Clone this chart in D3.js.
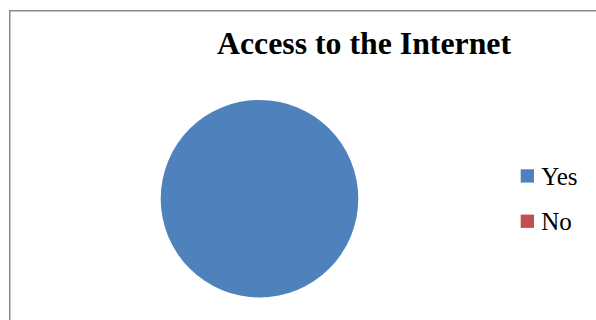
<!DOCTYPE html>
<html><head><meta charset="utf-8">
<script src="https://cdn.jsdelivr.net/npm/d3@7"></script>
<style>html,body{margin:0;padding:0;background:#fff;}svg{display:block;}</style>
</head><body>
<svg id="chart" width="596" height="320"></svg>
<script>
const title = "Access to the Internet";
const categories = ["Yes", "No"];
const values = [100, 0];
const colors = ["#4f81bd", "#c0504d"];

const svg = d3.select("#chart");
svg.append("rect").attr("width", 596).attr("height", 320).attr("fill", "#fff");

// frame (left and top border)
svg.append("path")
  .attr("d", "M9.75,320 L9.75,10.75 L596,10.75")
  .attr("fill", "none").attr("stroke", "#898989").attr("stroke-width", 1.5);

svg.append("text")
  .attr("x", 364).attr("y", 53.5)
  .attr("text-anchor", "middle")
  .style("font-family", "'Liberation Serif', 'Times New Roman', serif")
  .style("font-weight", "bold").style("font-size", "31.8px")
  .attr("fill", "#000")
  .text(title);

const color = d3.scaleOrdinal().domain(categories).range(colors);
const pie = d3.pie().sort(null).value(d => d.v);
const data = categories.map((c, i) => ({c, v: values[i]}));
const arc = d3.arc().innerRadius(0).outerRadius(98.8);

const g = svg.append("g").attr("transform", "translate(259.5,198.7)");
g.selectAll("path").data(pie(data)).join("path")
  .attr("d", arc)
  .attr("fill", d => color(d.data.c));

const leg = svg.append("g");
const ly = d3.scalePoint().domain(categories).range([176, 221.3]);
const items = leg.selectAll("g").data(categories).join("g")
  .attr("transform", d => `translate(520.7,${ly(d)})`);
items.append("rect").attr("x", 0).attr("y", -6.7).attr("width", 13.3).attr("height", 13.3)
  .attr("fill", d => color(d));
items.append("text").attr("x", 20.5).attr("y", 8.8)
  .style("font-family", "'Liberation Serif', 'Times New Roman', serif")
  .style("font-size", "25px").attr("fill", "#000")
  .text(d => d);
</script>
</body></html>
